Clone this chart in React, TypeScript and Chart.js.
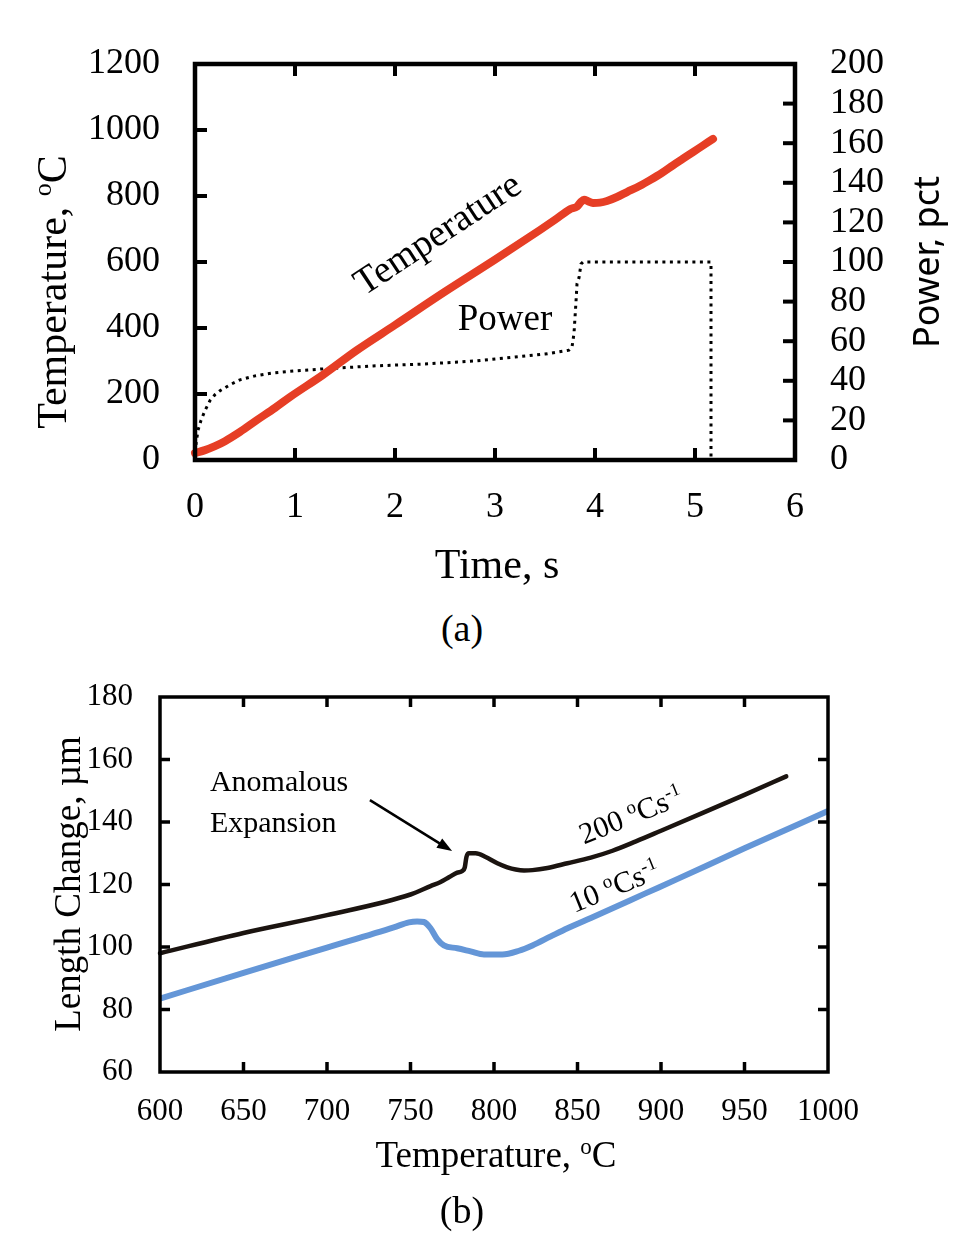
import { useEffect, useRef } from "react"
import { Chart, registerables } from "chart.js"

Chart.register(...registerables)

// ---- panel (a): temperature and power against time ----
const timeTemp = [0, 0.1, 0.2, 0.3, 0.45, 0.62, 0.8, 0.95, 1.28, 1.62, 2.0, 2.5, 3.0, 3.45, 3.6, 3.75, 3.82, 3.86, 3.89, 3.93, 3.98, 4.05, 4.12, 4.22, 4.32, 4.45, 4.55, 4.67, 4.78, 4.88, 4.98, 5.08, 5.18]
const temperature = [21, 30, 42, 57, 85, 121, 158, 191, 258, 333, 409, 510, 607, 697, 728, 760, 768, 782, 789, 784, 779, 780, 785, 797, 812, 831, 848, 870, 893, 913, 933, 953, 973]

const timePower = [0, 0.01, 0.03, 0.06, 0.1, 0.15, 0.2, 0.25, 0.35, 0.45, 0.6, 0.78, 1.0, 1.28, 1.78, 2.3, 2.8, 3.2, 3.5, 3.74, 3.77, 3.79, 3.81, 3.82, 3.84, 3.86, 3.88, 4.2, 4.6, 5.0, 5.16, 5.16]
const power = [0, 8, 15, 20, 25, 30, 33, 35, 38, 40.5, 42.5, 44, 45, 46, 47.5, 48.5, 50, 52, 53.5, 55.5, 57, 64, 80, 89, 92, 99, 100, 100, 100, 100, 100, 0]

// ---- panel (b): length change against temperature ----
const tempFast = [600, 650, 700, 750, 762, 768, 773, 778, 781, 782.5, 783.5, 785, 789, 795, 802, 808, 813, 818, 823, 832, 844, 858, 871, 885, 900, 925, 950, 975]
const lenFast = [98, 104.5, 110.2, 116.8, 119.5, 120.8, 122.3, 123.8, 124.3, 125.5, 128.8, 130, 130, 128.8, 126.8, 125.5, 124.8, 124.5, 124.6, 125.3, 126.8, 128.6, 130.8, 133.8, 137.2, 142.9, 148.7, 154.6]

const tempSlow = [600, 650, 700, 740, 749, 754, 758, 762, 766, 770, 778, 786, 794, 805, 815, 823, 834, 844, 858, 871, 890, 910, 950, 1000]
const lenSlow = [83.5, 91.7, 99.8, 106.3, 107.9, 108.2, 108, 106, 102.5, 100.5, 99.6, 98.6, 97.6, 97.6, 98.8, 100.5, 103.4, 106, 109.3, 112.4, 117, 121.8, 131.6, 143.5]

const SERIF = "'Liberation Serif', 'Times New Roman', serif"
const SANS = "'Noto Sans', 'Liberation Sans', sans-serif"

type Part = { text: string; sup?: boolean }

const degC: Part[] = [{ text: "o", sup: true }, { text: "C" }]

// draws a line of text with optional superscripts, centred (or left aligned) on cx, cy
function richText(
  ctx: CanvasRenderingContext2D,
  parts: Part[],
  cx: number,
  cy: number,
  size: number,
  family: string,
  angle = 0,
  align: "center" | "left" = "center"
) {
  ctx.save()
  ctx.translate(cx, cy)
  ctx.rotate((angle * Math.PI) / 180)
  const supSize = Math.round(size * 0.62)
  const widths = parts.map((p) => {
    ctx.font = `${p.sup ? supSize : size}px ${family}`
    return ctx.measureText(p.text).width
  })
  const total = widths.reduce((a, b) => a + b, 0)
  let x = align === "center" ? -total / 2 : 0
  const base = size * 0.33
  ctx.fillStyle = "#000"
  ctx.textAlign = "left"
  ctx.textBaseline = "alphabetic"
  parts.forEach((p, i) => {
    ctx.font = `${p.sup ? supSize : size}px ${family}`
    ctx.fillText(p.text, x, p.sup ? base - size * 0.36 : base)
    x += widths[i]
  })
  ctx.restore()
}

type Side = { id: string; side: "top" | "bottom" | "left" | "right" }

// plot border and inward tick marks, placed from the scales' own ticks
function drawFrame(chart: Chart, lineWidth: number, tickLen: number, tickWidth: number, sides: Side[]) {
  const { ctx, chartArea: a } = chart
  ctx.save()
  ctx.strokeStyle = "#000"
  ctx.lineWidth = tickWidth
  for (const s of sides) {
    const scale = chart.scales[s.id]
    for (const t of scale.ticks) {
      if (t.value <= (scale.min as number) || t.value >= (scale.max as number)) continue
      const p = scale.getPixelForValue(t.value)
      ctx.beginPath()
      if (s.side === "bottom") {
        ctx.moveTo(p, a.bottom)
        ctx.lineTo(p, a.bottom - tickLen)
      } else if (s.side === "top") {
        ctx.moveTo(p, a.top)
        ctx.lineTo(p, a.top + tickLen)
      } else if (s.side === "left") {
        ctx.moveTo(a.left, p)
        ctx.lineTo(a.left + tickLen, p)
      } else {
        ctx.moveTo(a.right, p)
        ctx.lineTo(a.right - tickLen, p)
      }
      ctx.stroke()
    }
  }
  ctx.lineWidth = lineWidth
  ctx.strokeRect(a.left, a.top, a.right - a.left, a.bottom - a.top)
  ctx.restore()
}

function tickStyle(size: number, padding: number, stepSize: number) {
  return {
    stepSize,
    autoSkip: false,
    maxRotation: 0,
    padding,
    color: "#000",
    font: { family: SERIF, size },
    callback: (v: number | string) => String(v),
  }
}

const noGrid = { display: false, drawTicks: false }

function PanelA() {
  const canvasRef = useRef<HTMLCanvasElement>(null)
  const chartRef = useRef<Chart | null>(null)

  useEffect(() => {
    if (!canvasRef.current) return
    if (chartRef.current) chartRef.current.destroy()

    const framePlugin = {
      id: "frameA",
      afterDraw(chart: Chart) {
        const ctx = chart.ctx
        drawFrame(chart, 4.5, 12, 4, [
          { id: "x", side: "bottom" },
          { id: "x", side: "top" },
          { id: "y", side: "left" },
          { id: "y1", side: "right" },
        ])
        const sx = chart.scales.x
        const sy = chart.scales.y
        // axis titles
        richText(ctx, [{ text: "Temperature, " }, ...degC], 52, 292, 42, SERIF, -90)
        richText(ctx, [{ text: "Time, s" }], 497, 564, 42, SERIF)
        richText(ctx, [{ text: "Power, pct" }], 927, 262, 36, SANS, -90)
        // curve labels
        richText(ctx, [{ text: "Temperature" }], sx.getPixelForValue(2.42), sy.getPixelForValue(688), 38, SERIF, -33.5)
        richText(ctx, [{ text: "Power" }], sx.getPixelForValue(3.1), sy.getPixelForValue(430), 37, SERIF)
      },
    }

    chartRef.current = new Chart(canvasRef.current, {
      type: "line",
      data: {
        datasets: [
          {
            label: "Temperature",
            data: timeTemp.map((x, i) => ({ x, y: temperature[i] })),
            borderColor: "#e63e25",
            borderWidth: 8,
            borderCapStyle: "round",
            pointRadius: 0,
            cubicInterpolationMode: "monotone",
            yAxisID: "y",
            clip: 10,
          },
          {
            label: "Power",
            data: timePower.map((x, i) => ({ x, y: power[i] })),
            borderColor: "#000",
            borderWidth: 3,
            borderDash: [3, 4.5],
            pointRadius: 0,
            tension: 0,
            yAxisID: "y1",
            clip: 10,
          },
        ],
      },
      options: {
        animation: false,
        responsive: true,
        maintainAspectRatio: false,
        layout: { padding: { top: 64, left: 0, right: 0, bottom: 0 } },
        plugins: { legend: { display: false }, tooltip: { enabled: false } },
        scales: {
          x: {
            type: "linear",
            min: 0,
            max: 6,
            grid: noGrid,
            border: { display: false },
            ticks: tickStyle(36, 26, 1),
            afterFit: (s: any) => {
              s.height = 140
            },
          },
          y: {
            type: "linear",
            position: "left",
            min: 0,
            max: 1200,
            grid: noGrid,
            border: { display: false },
            ticks: tickStyle(36, 35, 200),
            afterFit: (s: any) => {
              s.width = 195
            },
          },
          y1: {
            type: "linear",
            position: "right",
            min: 0,
            max: 200,
            grid: noGrid,
            border: { display: false },
            ticks: tickStyle(36, 35, 20),
            afterFit: (s: any) => {
              s.width = 173
            },
          },
        },
      },
      plugins: [framePlugin],
    } as any)

    return () => {
      if (chartRef.current) {
        chartRef.current.destroy()
        chartRef.current = null
      }
    }
  }, [])

  return (
    <div style={{ position: "absolute", left: 0, top: 0, width: 968, height: 600 }}>
      <canvas ref={canvasRef} />
    </div>
  )
}

function PanelB() {
  const canvasRef = useRef<HTMLCanvasElement>(null)
  const chartRef = useRef<Chart | null>(null)

  useEffect(() => {
    if (!canvasRef.current) return
    if (chartRef.current) chartRef.current.destroy()

    const framePlugin = {
      id: "frameB",
      afterDraw(chart: Chart) {
        const ctx = chart.ctx
        drawFrame(chart, 3.5, 10, 3.5, [
          { id: "x", side: "bottom" },
          { id: "x", side: "top" },
          { id: "y", side: "left" },
          { id: "y", side: "right" },
        ])
        const sx = chart.scales.x
        const sy = chart.scales.y
        const px = (v: number) => sx.getPixelForValue(v)
        const py = (v: number) => sy.getPixelForValue(v)

        richText(ctx, [{ text: "Length Change, \u00b5m" }], 68, 244, 37, SERIF, -90)
        richText(ctx, [{ text: "Temperature, " }, ...degC], 496, 515, 37, SERIF)

        richText(ctx, [{ text: "Anomalous" }], px(629.9), py(153.1), 30, SERIF, 0, "left")
        richText(ctx, [{ text: "Expansion" }], px(629.9), py(140), 30, SERIF, 0, "left")
        richText(ctx, [{ text: "200 " }, { text: "o", sup: true }, { text: "Cs" }, { text: "-1", sup: true }], px(882), py(142.3), 30, SERIF, -22)
        richText(ctx, [{ text: "10 " }, { text: "o", sup: true }, { text: "Cs" }, { text: "-1", sup: true }], px(872), py(119.5), 30, SERIF, -22)

        // arrow towards the anomaly
        const x0 = px(725.7), y0 = py(147)
        const x1 = px(774.9), y1 = py(130.7)
        const ang = Math.atan2(y1 - y0, x1 - x0)
        const head = 16
        ctx.save()
        ctx.strokeStyle = "#000"
        ctx.fillStyle = "#000"
        ctx.lineWidth = 2.5
        ctx.beginPath()
        ctx.moveTo(x0, y0)
        ctx.lineTo(x1 - Math.cos(ang) * head * 0.8, y1 - Math.sin(ang) * head * 0.8)
        ctx.stroke()
        ctx.beginPath()
        ctx.moveTo(x1, y1)
        ctx.lineTo(x1 - head * Math.cos(ang - 0.35), y1 - head * Math.sin(ang - 0.35))
        ctx.lineTo(x1 - head * Math.cos(ang + 0.35), y1 - head * Math.sin(ang + 0.35))
        ctx.closePath()
        ctx.fill()
        ctx.restore()
      },
    }

    chartRef.current = new Chart(canvasRef.current, {
      type: "line",
      data: {
        datasets: [
          {
            label: "200 oC/s",
            data: tempFast.map((x, i) => ({ x, y: lenFast[i] })),
            borderColor: "#1b1410",
            borderWidth: 4.5,
            borderCapStyle: "round",
            pointRadius: 0,
            cubicInterpolationMode: "monotone",
            clip: 8,
          },
          {
            label: "10 oC/s",
            data: tempSlow.map((x, i) => ({ x, y: lenSlow[i] })),
            borderColor: "#6496d7",
            borderWidth: 6,
            pointRadius: 0,
            cubicInterpolationMode: "monotone",
            clip: 8,
          },
        ],
      },
      options: {
        animation: false,
        responsive: true,
        maintainAspectRatio: false,
        layout: { padding: { top: 57, left: 0, right: 0, bottom: 0 } },
        plugins: { legend: { display: false }, tooltip: { enabled: false } },
        scales: {
          x: {
            type: "linear",
            min: 600,
            max: 1000,
            grid: noGrid,
            border: { display: false },
            ticks: tickStyle(31, 21, 50),
            afterFit: (s: any) => {
              s.height = 128
            },
          },
          y: {
            type: "linear",
            position: "left",
            min: 60,
            max: 180,
            grid: noGrid,
            border: { display: false },
            ticks: tickStyle(31, 27, 20),
            afterFit: (s: any) => {
              s.width = 160
            },
          },
          yr: {
            type: "linear",
            position: "right",
            display: true,
            min: 60,
            max: 180,
            grid: noGrid,
            border: { display: false },
            ticks: { display: false },
            afterFit: (s: any) => {
              s.width = 140
            },
          },
        },
      },
      plugins: [framePlugin],
    } as any)

    return () => {
      if (chartRef.current) {
        chartRef.current.destroy()
        chartRef.current = null
      }
    }
  }, [])

  return (
    <div style={{ position: "absolute", left: 0, top: 640, width: 968, height: 560 }}>
      <canvas ref={canvasRef} />
    </div>
  )
}

const caption = (cy: number): React.CSSProperties => ({
  position: "absolute",
  left: 0,
  width: 924,
  top: cy - 22,
  height: 44,
  lineHeight: "44px",
  textAlign: "center",
  fontFamily: SERIF,
  fontSize: 38,
  color: "#000",
})

export default function App() {
  return (
    <div style={{ position: "absolute", left: 0, top: 0, width: 968, height: 1237, background: "#fff" }}>
      <PanelA />
      <div style={caption(628)}>(a)</div>
      <PanelB />
      <div style={caption(1210)}>(b)</div>
    </div>
  )
}
